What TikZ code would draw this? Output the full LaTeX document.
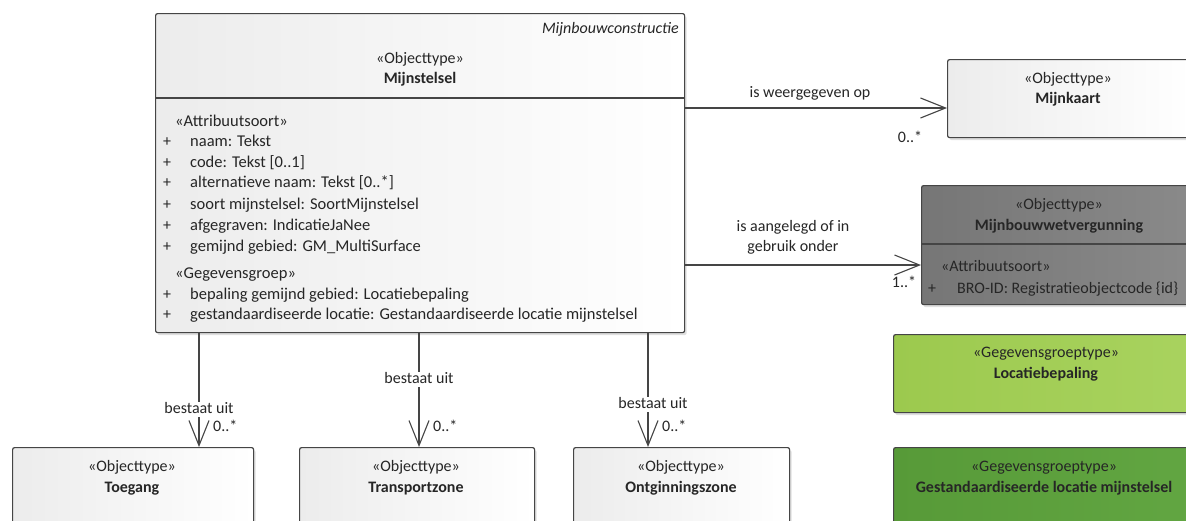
\documentclass[tikz,border=0pt]{standalone}
\usepackage{fontspec}
\setmainfont{Carlito}
\usetikzlibrary{arrows.meta,shadows}
\definecolor{ink}{HTML}{262626}
\definecolor{edgec}{HTML}{454545}
\definecolor{boxl}{HTML}{ECECEC}
\definecolor{grayl}{HTML}{767676}
\definecolor{grayr}{HTML}{8A8A8A}
\definecolor{lgl}{HTML}{9CC94E}
\definecolor{lgr}{HTML}{A9D35F}
\definecolor{dgl}{HTML}{579A38}
\definecolor{dgr}{HTML}{62A642}
\newcommand\dfs{\fontsize{16}{20}\selectfont}
\newcommand\afs{\fontsize{16.5}{20}\selectfont}
\tikzset{
  txt/.style={font=\dfs, inner sep=0pt, text height=10pt, text depth=1pt, text=ink},
  attr/.style={txt, font=\afs, anchor=west},
  bold/.style={txt, font=\dfs\bfseries},
  box/.style={draw=edgec, line width=1.2pt, rounded corners=2pt, anchor=north west,
    drop shadow={shadow xshift=2pt, shadow yshift=-2.5pt, opacity=0.25}},
  wbox/.style={box, left color=boxl, right color=white},
  gbox/.style={box, left color=grayl, right color=grayr},
  lgbox/.style={box, left color=lgl, right color=lgr},
  dgbox/.style={box, left color=dgl, right color=dgr},
  divider/.style={draw=edgec, line width=1.2pt},
  assoc/.style={draw=edgec, line width=1.1pt, -{Straight Barb[length=25pt, width=20pt, line width=1.1pt]}},
  lbl/.style={txt, fill=white, inner sep=2pt},
}
\begin{document}
\begin{tikzpicture}[x=1pt, y=-1pt]
\useasboundingbox (0,0) rectangle (1186,520);
\clip (0,0) rectangle (1186,520);
\fill[white] (0,0) rectangle (1186,520);

% Mijnstelsel
\node[wbox, minimum width=529pt, minimum height=319pt] (ms) at (155,13) {};
\draw[divider] ([yshift=-85pt]ms.north west) -- ([yshift=-85pt]ms.north east);
\node[txt, font=\dfs\itshape, anchor=east] (mspkg) at (679,29) {Mijnbouwconstructie};
\node[txt] (msst) at (420,59) {«Objecttype»};
\node[bold] (msnm) at (420,79) {Mijnstelsel};
\node[attr] (msa0) at (175,122) {«Attribuutsoort»};
\node[txt] (msp1) at (167,142) {+};
\node[attr] (msa1) at (190,142) {naam: Tekst};
\node[txt] (msp2) at (167,163) {+};
\node[attr] (msa2) at (190,163) {code: Tekst [0..1]};
\node[txt] (msp3) at (167,183) {+};
\node[attr] (msa3) at (190,183) {alternatieve naam: Tekst [0..*]};
\node[txt] (msp4) at (167,205) {+};
\node[attr] (msa4) at (190,205) {soort mijnstelsel: SoortMijnstelsel};
\node[txt] (msp5) at (167,226) {+};
\node[attr] (msa5) at (190,226) {afgegraven: IndicatieJaNee};
\node[txt] (msp6) at (167,247) {+};
\node[attr] (msa6) at (190,247) {gemijnd gebied: GM\_MultiSurface};
\node[attr] (msg0) at (175,274) {«Gegevensgroep»};
\node[txt] (msp7) at (167,295) {+};
\node[attr] (msg1) at (190,295) {bepaling gemijnd gebied: Locatiebepaling};
\node[txt] (msp8) at (167,315) {+};
\node[attr] (msg2) at (190,315) {gestandaardiseerde locatie: Gestandaardiseerde locatie mijnstelsel};

% Mijnkaart
\node[wbox, minimum width=243pt, minimum height=78pt] (mk) at (947,59) {};
\node[txt] (mkst) at (1068,79) {«Objecttype»};
\node[bold] (mknm) at (1068,99) {Mijnkaart};

% Mijnbouwwetvergunning
\node[gbox, minimum width=276pt, minimum height=119pt] (mw) at (921,185) {};
\draw[divider] ([yshift=-59pt]mw.north west) -- ([yshift=-59pt]mw.north east);
\node[txt] (mwst) at (1059,205) {«Objecttype»};
\node[bold] (mwnm) at (1059,226) {Mijnbouwwetvergunning};
\node[txt, anchor=west] (mwa0) at (941,267) {«Attribuutsoort»};
\node[txt] (mwp1) at (932,289) {+};
\node[txt, anchor=west] (mwa1) at (957,289) {BRO-ID: Registratieobjectcode \{id\}};

% Locatiebepaling
\node[lgbox, minimum width=304pt, minimum height=78pt] (lb) at (893,334) {};
\node[txt] (lbst) at (1046,353) {«Gegevensgroeptype»};
\node[bold] (lbnm) at (1046,374) {Locatiebepaling};

% Gestandaardiseerde locatie mijnstelsel
\node[dgbox, minimum width=304pt, minimum height=120pt] (gl) at (893,447) {};
\node[txt] (glst) at (1044,467) {«Gegevensgroeptype»};
\node[bold] (glnm) at (1044,488) {Gestandaardiseerde locatie mijnstelsel};

% bottom row
\node[wbox, minimum width=241pt, minimum height=120pt] (tg) at (12,447) {};
\node[txt] (tgst) at (132,467) {«Objecttype»};
\node[bold] (tgnm) at (132,488) {Toegang};
\node[wbox, minimum width=235pt, minimum height=120pt] (tz) at (299,447) {};
\node[txt] (tzst) at (416,467) {«Objecttype»};
\node[bold] (tznm) at (416,488) {Transportzone};
\node[wbox, minimum width=216pt, minimum height=120pt] (oz) at (573,447) {};
\node[txt] (ozst) at (681,467) {«Objecttype»};
\node[bold] (oznm) at (681,488) {Ontginningszone};

% connectors right
\coordinate (r1) at (700,108);
\coordinate (r2) at (700,265);
\draw[assoc] (ms.east |- r1) -- (mk.west |- r1);
\draw[assoc] (ms.east |- r2) -- (mw.west |- r2);
\node[txt] (l1) at (810,93) {is weergegeven op};
\node[txt] (m1) at (910,138) {0..*};
\node[txt] (l2a) at (793,227) {is aangelegd of in};
\node[txt] (l2b) at (793,247) {gebruik onder};
\node[txt] (m2) at (904,283) {1..*};

% connectors down
\coordinate (d1) at (199,340);
\coordinate (d2) at (419,340);
\coordinate (d3) at (648,340);
\draw[assoc] (ms.south -| d1) -- (tg.north -| d1);
\draw[assoc] (ms.south -| d2) -- (tz.north -| d2);
\draw[assoc] (ms.south -| d3) -- (oz.north -| d3);
\node[lbl] (b1) at (199,409) {bestaat uit};
\node[lbl] (b2) at (419,379) {bestaat uit};
\node[lbl] (b3) at (653,404) {bestaat uit};
\node[txt, anchor=west] (n1) at (213,427) {0..*};
\node[txt, anchor=west] (n2) at (433,427) {0..*};
\node[txt, anchor=west] (n3) at (662,427) {0..*};
\end{tikzpicture}
\end{document}
